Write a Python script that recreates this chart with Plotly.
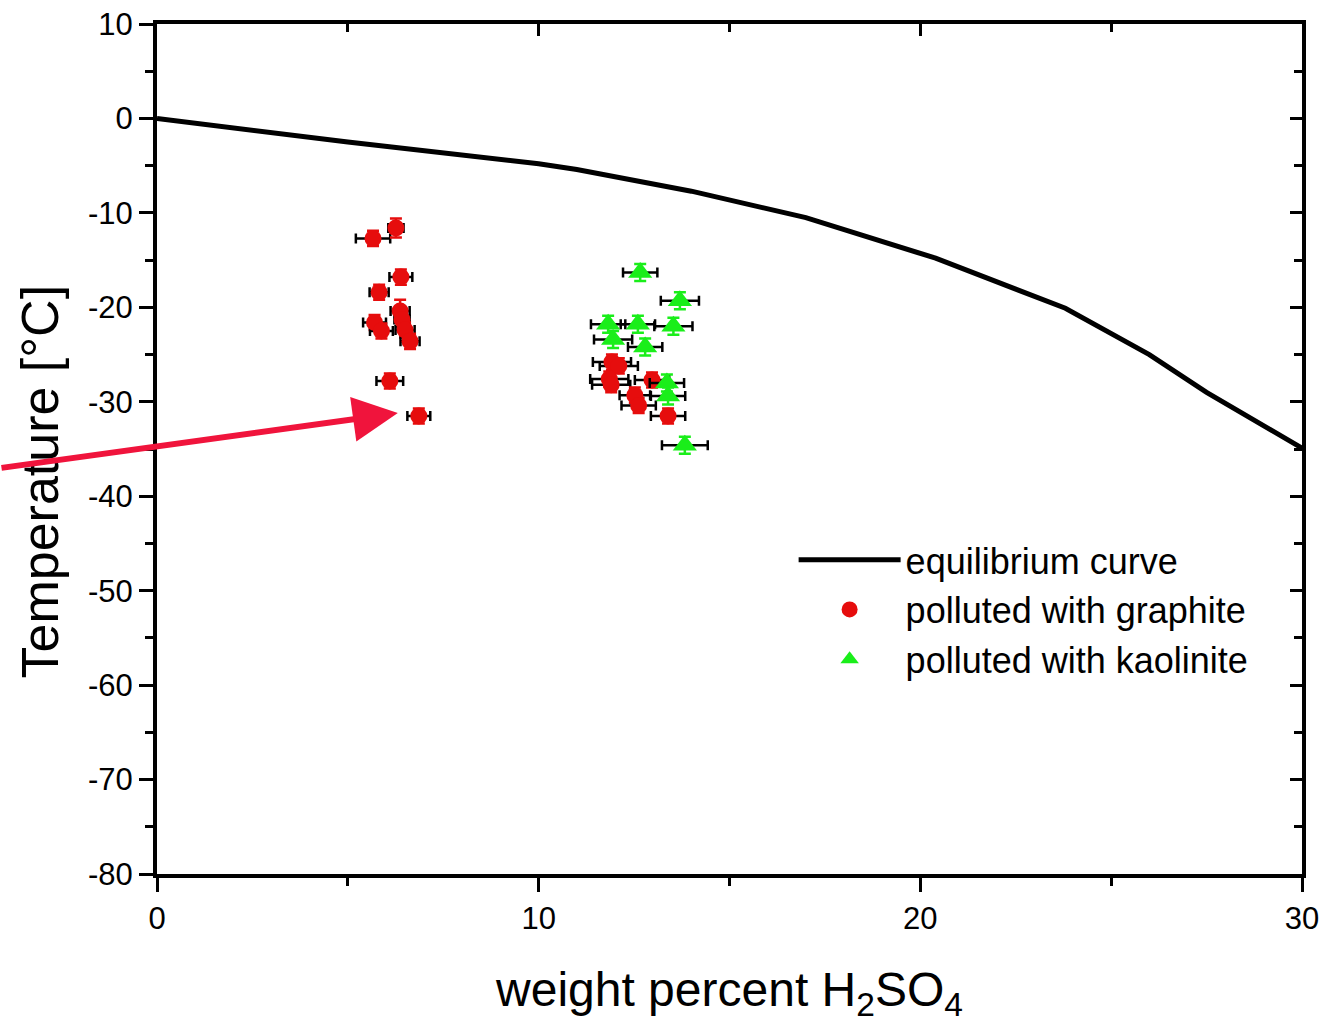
import plotly.graph_objects as go

# Equilibrium (freezing) curve of aqueous H2SO4
eq_wt = [0, 5, 10, 11, 14, 16.3, 17, 20.4, 23.8, 26.0, 27.5, 30]
eq_temp = [0, -2.5, -4.8, -5.4, -7.7, -9.9, -10.5, -14.8, -20.1, -25.0, -29.0, -34.9]

# Droplets polluted with graphite
gr_wt = [5.66, 6.26, 6.39, 5.82, 6.37, 6.42, 5.70, 5.88, 6.50, 6.63, 6.10, 6.86,
         11.92, 12.10, 11.85, 11.90, 12.97, 12.52, 12.62, 13.39]
gr_temp = [-12.7, -11.6, -16.8, -18.4, -20.4, -21.3, -21.6, -22.5, -22.4, -23.6, -27.8, -31.5,
           -25.8, -26.2, -27.6, -28.2, -27.7, -29.3, -30.4, -31.5]
gr_wt_err = [0.45, 0.2, 0.3, 0.25, 0.25, 0.2, 0.3, 0.3, 0.25, 0.25, 0.35, 0.3,
             0.5, 0.5, 0.5, 0.5, 0.45, 0.4, 0.45, 0.45]
gr_temp_err = [0.8, 1.0, 0.8, 0.8, 1.2, 0.8, 0.8, 0.8, 0.8, 0.8, 0.8, 0.8,
               0.8, 0.8, 0.8, 0.8, 0.8, 0.8, 0.8, 0.8]

# Droplets polluted with kaolinite
ka_wt = [12.66, 13.70, 11.82, 12.60, 13.53, 11.95, 12.79, 13.36, 13.39, 13.83]
ka_temp = [-16.3, -19.3, -21.8, -21.8, -22.0, -23.4, -24.2, -28.0, -29.4, -34.6]
ka_wt_err = [0.45, 0.5, 0.45, 0.45, 0.5, 0.5, 0.45, 0.45, 0.45, 0.6]
ka_temp_err = [0.9, 0.9, 0.9, 0.9, 0.9, 0.9, 0.9, 0.9, 0.9, 0.9]

# Axis tick positions and labels (plain hyphen as minus sign)
x_ticks = [0, 10, 20, 30]
x_ticklabels = ["0", "10", "20", "30"]
y_ticks = [10, 0, -10, -20, -30, -40, -50, -60, -70, -80]
y_ticklabels = ["10", "0", "-10", "-20", "-30", "-40", "-50", "-60", "-70", "-80"]

RED = "#e60d0d"
GREEN = "#1aee1a"
FONT = "Liberation Sans, Arial, sans-serif"

fig = go.Figure()

fig.add_trace(go.Scatter(
    x=eq_wt, y=eq_temp, mode="lines", name="equilibrium curve",
    line=dict(color="black", width=5),
))

fig.add_trace(go.Scatter(
    x=gr_wt, y=gr_temp, mode="markers", name="polluted with graphite",
    marker=dict(symbol="circle", size=17, color=RED),
    error_x=dict(type="data", array=gr_wt_err, color="black", thickness=2.5, width=5),
    error_y=dict(type="data", array=gr_temp_err, color=RED, thickness=2.5, width=6),
))

fig.add_trace(go.Scatter(
    x=ka_wt, y=ka_temp, mode="markers", name="polluted with kaolinite",
    marker=dict(symbol="triangle-up", size=21, color=GREEN),
    error_x=dict(type="data", array=ka_wt_err, color="black", thickness=2.5, width=5),
    error_y=dict(type="data", array=ka_temp_err, color=GREEN, thickness=2.5, width=6),
))

# helper trace so the mirrored top/right axes are drawn
fig.add_trace(go.Scatter(x=[None], y=[None], xaxis="x2", yaxis="y2",
                         showlegend=False, hoverinfo="skip"))

axis_common = dict(
    showgrid=False, zeroline=False, showline=True, linecolor="black", linewidth=4,
    tickcolor="black", tickwidth=3, automargin=False,
    tickfont=dict(family=FONT, size=31, color="black"),
)

fig.update_layout(
    width=1336, height=1027,
    margin=dict(l=157, r=34, t=24, b=153),
    paper_bgcolor="white", plot_bgcolor="white",
    font=dict(family=FONT, color="black"),
    xaxis=dict(
        range=[0, 30], tickmode="array", tickvals=x_ticks, ticktext=x_ticklabels,
        ticks="outside", ticklen=14,
        minor=dict(ticks="outside", dtick=5, ticklen=8, tickwidth=3, tickcolor="black"),
        title=dict(text="weight percent H<sub>2</sub>SO<sub>4</sub>",
                   font=dict(family=FONT, size=48, color="black"), standoff=38),
        **axis_common,
    ),
    yaxis=dict(
        range=[-80, 10], tickmode="array", tickvals=y_ticks, ticktext=y_ticklabels,
        ticks="outside", ticklen=14,
        minor=dict(ticks="outside", dtick=5, ticklen=8, tickwidth=3, tickcolor="black"),
        **axis_common,
    ),
    xaxis2=dict(
        overlaying="x", side="top", anchor="y", range=[0, 30], tick0=0, dtick=10,
        ticks="inside", ticklen=12, showticklabels=False,
        minor=dict(ticks="inside", dtick=5, ticklen=8, tickwidth=3, tickcolor="black"),
        **axis_common,
    ),
    yaxis2=dict(
        overlaying="y", side="right", anchor="x", range=[-80, 10], tick0=0, dtick=10,
        ticks="inside", ticklen=12, showticklabels=False,
        minor=dict(ticks="inside", dtick=5, ticklen=8, tickwidth=3, tickcolor="black"),
        **axis_common,
    ),
    legend=dict(
        x=0.556, y=0.405, xanchor="left", yanchor="top",
        bgcolor="rgba(0,0,0,0)", borderwidth=0, itemwidth=102,
        font=dict(family=FONT, size=36, color="black"),
        tracegroupgap=0,
    ),
    showlegend=True,
)

# y-axis title, set slightly below the axis centre
fig.add_annotation(
    text="Temperature [°C]", xref="paper", yref="paper",
    x=-0.102, y=0.462, xanchor="center", yanchor="middle", textangle=-90,
    showarrow=False, font=dict(family=FONT, size=52, color="black"),
)

# arrow pointing at the coldest graphite droplet of the first cluster
fig.add_annotation(
    x=6.31, y=-31.2, xref="x", yref="y", ax=-398, ay=55, axref="pixel", ayref="pixel",
    text="", showarrow=True, arrowhead=2, arrowsize=1.5, arrowwidth=6,
    arrowcolor="#f0143c", standoff=0,
)

fig.write_html("out.html")
